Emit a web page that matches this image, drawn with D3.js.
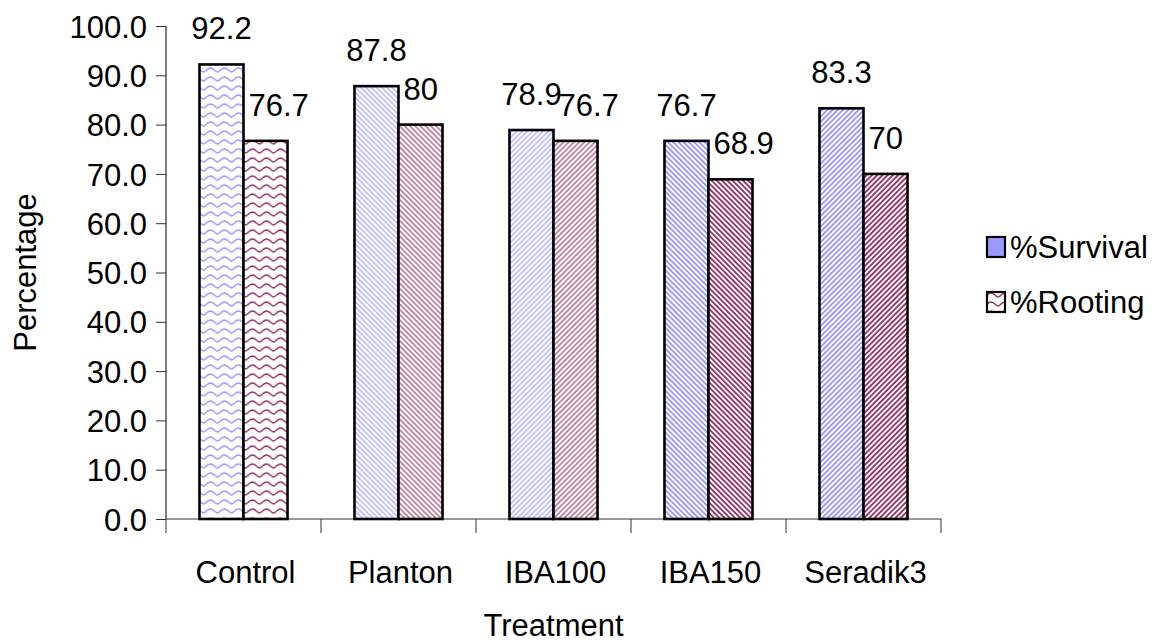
<!DOCTYPE html>
<html lang="en">
<head>
<meta charset="UTF-8" />
<script src="https://d3js.org/d3.v7.min.js"></script>
<style>
  body { margin: 0; background: #fff; }
  text { font-family: "Liberation Sans", Arial, sans-serif; fill: #000; }
</style>
<title>Survival and rooting by treatment</title>
</head>
<body>
<svg id="chart"></svg>
<script>
  // data
  const treatments = ["Control", "Planton", "IBA100", "IBA150", "Seradik3"];
  const seriesNames = ["%Survival", "%Rooting"];
  const survival = [92.2, 87.8, 78.9, 76.7, 83.3];
  const rooting = [76.7, 80, 76.7, 68.9, 70];
  const yTicks = [0, 10, 20, 30, 40, 50, 60, 70, 80, 90, 100];

  // Excel-ish fill pattern per category
  const patternKinds = ["wave", "lightDown", "lightUp", "wideDown", "wideUp"];
  const colors = ["#9999ff", "#993366"];

  const W = 1161, H = 642;
  const plotL = 166, plotR = 941, plotT = 26, plotB = 519;

  const svg = d3.select("#chart").attr("width", W).attr("height", H);
  const defs = svg.append("defs");

  const makePattern = (id, kind, color) => {
    if (kind === "wave") {
      const p = defs.append("pattern").attr("id", id)
        .attr("patternUnits", "userSpaceOnUse").attr("width", 14).attr("height", 9)
        .attr("x", 200).attr("y", 3);
      p.append("rect").attr("width", 14).attr("height", 9).attr("fill", "#fff");
      p.append("path").attr("d", "M0,6 C2,6 4,2 7,2 C10,2 12,6 14,6")
        .attr("fill", "none").attr("stroke", color).attr("stroke-width", 1.5);
      return;
    }
    const wide = kind.startsWith("wide");
    const s = 3.7;
    const p = defs.append("pattern").attr("id", id)
      .attr("patternUnits", "userSpaceOnUse").attr("width", s).attr("height", s)
      .attr("patternTransform", kind.endsWith("Down") ? "rotate(-45)" : "rotate(45)");
    p.append("rect").attr("width", s).attr("height", s).attr("fill", "#fff");
    p.append("line").attr("x1", s / 2).attr("x2", s / 2).attr("y1", 0).attr("y2", s)
      .attr("stroke", color).attr("stroke-width", wide ? 1.9 : 1.1);
  };
  patternKinds.forEach((k, i) => {
    colors.forEach((c, j) => makePattern(`p${i}-${j}`, k, c));
  });

  const x = d3.scaleBand().domain(treatments).range([plotL, plotR])
    .paddingInner(0.432).paddingOuter(0.216);
  const xs = d3.scaleBand().domain(seriesNames).range([0, x.bandwidth()]);
  const y = d3.scaleLinear().domain([0, 100]).range([plotB, plotT]);

  // y axis
  const yAxis = svg.append("g")
    .attr("transform", `translate(${plotL},0)`)
    .call(d3.axisLeft(y).tickValues(yTicks).tickFormat(d3.format(".1f")).tickSize(10).tickPadding(9));
  yAxis.select(".domain").attr("stroke", "#000").attr("d", `M0,${plotT}V${plotB}`);
  yAxis.selectAll(".tick line").attr("stroke", "#333");
  yAxis.selectAll("text").style("font-size", "31px").attr("dy", "0.36em");

  // x axis, ticks sit between categories
  const gap = (x.step() - x.bandwidth()) / 2;
  const bounds = treatments.map(t => x(t) - gap).concat([plotR]);
  const xAxis = svg.append("g");
  xAxis.append("line").attr("x1", plotL).attr("x2", plotR)
    .attr("y1", plotB).attr("y2", plotB).attr("stroke", "#333");
  xAxis.selectAll("line.tk").data(bounds).enter().append("line").attr("class", "tk")
    .attr("x1", d => d).attr("x2", d => d).attr("y1", plotB).attr("y2", plotB + 14)
    .attr("stroke", "#333");
  xAxis.selectAll("text").data(treatments).enter().append("text")
    .attr("x", d => x(d) + x.bandwidth() / 2 + 2).attr("y", 583)
    .attr("text-anchor", "middle").style("font-size", "31px").text(d => d);

  // bars
  const rows = treatments.map((t, i) => ({ t, i, vals: [survival[i], rooting[i]] }));
  const groups = svg.selectAll("g.cat").data(rows).enter().append("g")
    .attr("class", "cat").attr("transform", d => `translate(${x(d.t)},0)`);

  groups.selectAll("rect").data(d => d.vals.map((v, j) => ({ v, j, i: d.i })))
    .enter().append("rect")
    .attr("x", d => xs(seriesNames[d.j]))
    .attr("y", d => y(d.v))
    .attr("width", xs.bandwidth())
    .attr("height", d => y(0) - y(d.v))
    .attr("fill", d => `url(#p${d.i}-${d.j})`)
    .attr("stroke", "#000").attr("stroke-width", 2.6);

  groups.selectAll("text").data(d => d.vals.map((v, j) => ({ v, j })))
    .enter().append("text")
    .attr("x", d => xs(seriesNames[d.j]) + xs.bandwidth() / 2 + (d.j === 1 ? -17 : 0))
    .attr("y", d => y(d.v) - 25)
    .attr("text-anchor", d => d.j === 1 ? "start" : "middle")
    .style("font-size", "31px")
    .text(d => String(d.v));

  // axis titles
  svg.append("text").attr("x", (plotL + plotR) / 2).attr("y", 636)
    .attr("text-anchor", "middle").style("font-size", "31px").text("Treatment");
  svg.append("text").attr("transform", `translate(36,${(plotT + plotB) / 2}) rotate(-90)`)
    .attr("text-anchor", "middle").style("font-size", "31px").text("Percentage");

  // legend
  const legend = svg.append("g");
  const legendY = [247, 302];
  const legendFill = [colors[0], "url(#p0-1)"];
  seriesNames.forEach((n, j) => {
    legend.append("rect").attr("x", 987).attr("y", legendY[j] - 10)
      .attr("width", 18).attr("height", 20)
      .attr("fill", legendFill[j]).attr("stroke", "#000").attr("stroke-width", 2.2);
    legend.append("text").attr("x", 1010).attr("y", legendY[j] + 11)
      .style("font-size", "31px").text(n);
  });
</script>
</body>
</html>
